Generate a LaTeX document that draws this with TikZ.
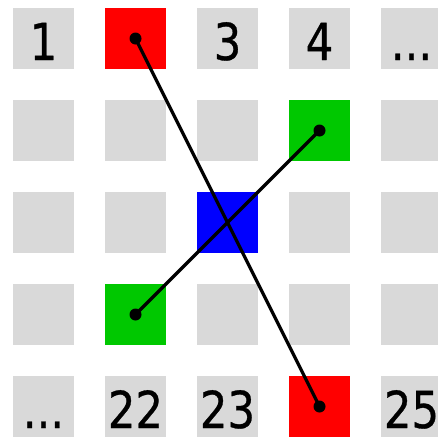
\documentclass[tikz,border=0pt]{standalone}
\usepackage{fontspec}
\newfontfamily\cellfont[FakeStretch=0.85,FakeBold=0.6]{DejaVu Sans}
\definecolor{cgray}{HTML}{D9D9D9}
\definecolor{cred}{HTML}{FF0000}
\definecolor{cgreen}{HTML}{00C800}
\definecolor{cblue}{HTML}{0000FF}
\newcommand{\moredots}{...}
\tikzset{
  cell/.style={fill=#1, minimum size=61pt, inner sep=0pt,
               text height=43pt, text depth=0pt,
               font=\cellfont\fontsize{51}{51}\selectfont},
  link/.style={line width=3.2pt, black},
  pin/.style={black},
}

\begin{document}
\begin{tikzpicture}[x=1pt, y=-1pt]
  \useasboundingbox (0,0) rectangle (438,437);

  % --- 5x5 grid of cells ---------------------------------------------
  \foreach \k/\fc/\txt in {1/cgray/1, 2/cred/{}, 3/cgray/3, 4/cgray/4, 5/cgray/\moredots,
                           6/cgray/{}, 7/cgray/{}, 8/cgray/{}, 9/cgreen/{}, 10/cgray/{},
                           11/cgray/{}, 12/cgray/{}, 13/cblue/{}, 14/cgray/{}, 15/cgray/{},
                           16/cgray/{}, 17/cgreen/{}, 18/cgray/{}, 19/cgray/{}, 20/cgray/{},
                           21/cgray/\moredots, 22/cgray/22, 23/cgray/23, 24/cred/{}, 25/cgray/25}{
    \pgfmathtruncatemacro\col{mod(\k-1,5)}
    \pgfmathtruncatemacro\row{(\k-1)/5}
    \node[cell=\fc] (cell\k) at ({43.5+92*\col}, {38.5+92*\row}) {\txt};
  }

  % --- links between paired cells -------------------------------------
  \draw[link] (cell2.center) -- (cell24.center);
  \draw[link] (cell9.center) -- (cell17.center);
  \foreach \k in {2,24,9,17}
    \fill[pin] (cell\k.center) circle (6pt);
\end{tikzpicture}
\end{document}
